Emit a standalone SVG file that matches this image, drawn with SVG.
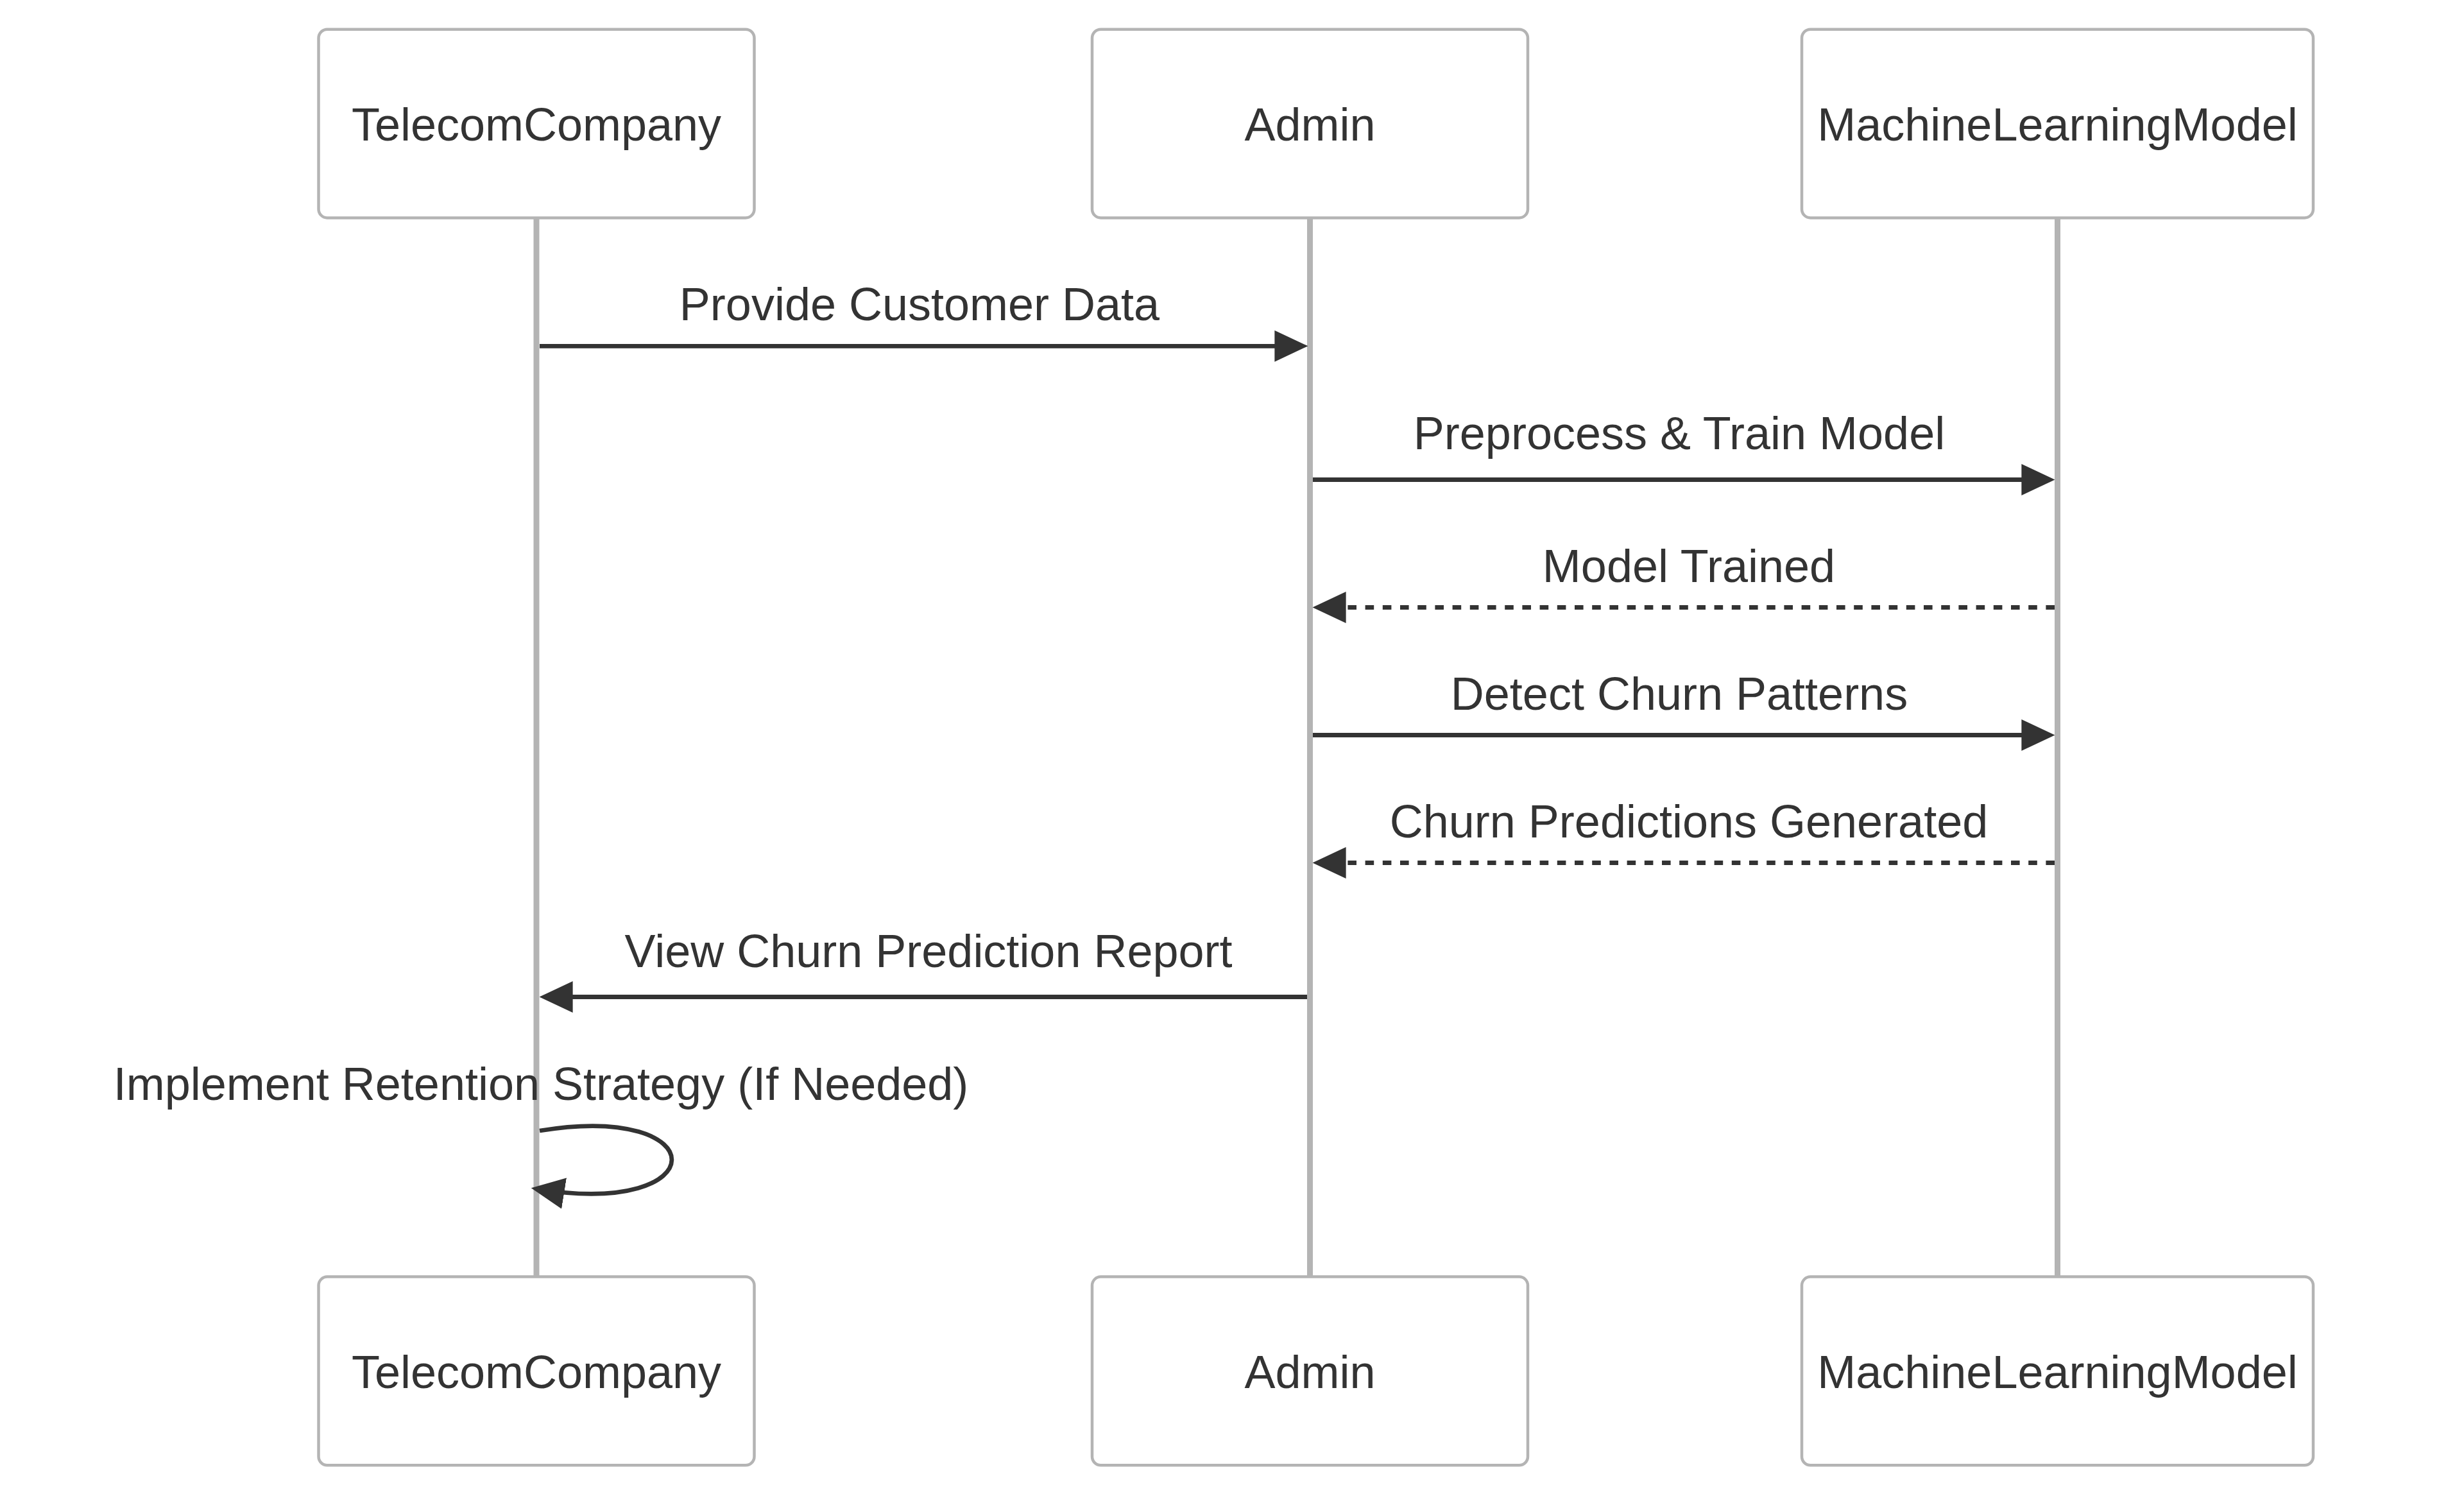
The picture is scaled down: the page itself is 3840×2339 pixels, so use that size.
<svg xmlns="http://www.w3.org/2000/svg" width="3840" height="2339" viewBox="0 0 3840 2339">
  <style>
    .actor { fill: #ffffff; stroke: #b4b4b4; stroke-width: 4.5; }
    .lifeline { stroke: #b4b4b4; stroke-width: 9; fill: none; }
    .label { font-family: "Liberation Sans", Arial, sans-serif; font-size: 72px; fill: #333333; text-anchor: middle; }
    .msg { stroke: #333333; stroke-width: 6.8; fill: none; marker-end: url(#arrowhead); }
    .dashed { stroke-dasharray: 13.6 13.6; }
  </style>
  <defs>
    <marker id="arrowhead" markerUnits="userSpaceOnUse" markerWidth="52" markerHeight="49" refX="40" refY="23.5" orient="auto" viewBox="0 0 50 47">
      <path d="M0,0 L50,23.5 L0,47 z" fill="#333333"/>
    </marker>
  </defs>
  <rect width="3840" height="2339" fill="#ffffff"/>

  <g id="lifelines">
    <line class="lifeline" x1="836" y1="339.5" x2="836" y2="1989.5"/>
    <line class="lifeline" x1="2041.5" y1="339.5" x2="2041.5" y2="1989.5"/>
    <line class="lifeline" x1="3206.5" y1="339.5" x2="3206.5" y2="1989.5"/>
  </g>

  <g id="actor-telecom-top">
    <rect class="actor" x="496.5" y="45.7" width="679" height="293.8" rx="13.6" ry="13.6"/>
    <text class="label" x="836" y="219">TelecomCompany</text>
  </g>
  <g id="actor-admin-top">
    <rect class="actor" x="1702" y="45.7" width="679" height="293.8" rx="13.6" ry="13.6"/>
    <text class="label" x="2041.5" y="219">Admin</text>
  </g>
  <g id="actor-ml-top">
    <rect class="actor" x="2808" y="45.7" width="797" height="293.8" rx="13.6" ry="13.6"/>
    <text class="label" x="3206.5" y="219">MachineLearningModel</text>
  </g>

  <g id="actor-telecom-bottom">
    <rect class="actor" x="496.5" y="1989.5" width="679" height="293.8" rx="13.6" ry="13.6"/>
    <text class="label" x="836" y="2163">TelecomCompany</text>
  </g>
  <g id="actor-admin-bottom">
    <rect class="actor" x="1702" y="1989.5" width="679" height="293.8" rx="13.6" ry="13.6"/>
    <text class="label" x="2041.5" y="2163">Admin</text>
  </g>
  <g id="actor-ml-bottom">
    <rect class="actor" x="2808" y="1989.5" width="797" height="293.8" rx="13.6" ry="13.6"/>
    <text class="label" x="3206.5" y="2163">MachineLearningModel</text>
  </g>

  <g id="connectors">
    <path class="msg" d="M841,539.3 L2028,539.3"/>
    <path class="msg" d="M2046,747.5 L3192,747.5"/>
    <path class="msg dashed" d="M3202,946.5 L2056,946.5"/>
    <path class="msg" d="M2046,1145.5 L3192,1145.5"/>
    <path class="msg dashed" d="M3202,1344.5 L2056,1344.5"/>
    <path class="msg" d="M2037,1553.5 L851,1553.5"/>
    <path class="msg" d="M841,1762 C1116,1717 1116,1898 838,1853"/>
  </g>

  <g id="message-labels">
    <text class="label" x="1433" y="499">Provide Customer Data</text>
    <text class="label" x="2617" y="699.5">Preprocess &amp; Train Model</text>
    <text class="label" x="2632" y="907">Model Trained</text>
    <text class="label" x="2617" y="1105.5">Detect Churn Patterns</text>
    <text class="label" x="2632" y="1304.5">Churn Predictions Generated</text>
    <text class="label" x="1447" y="1506.5">View Churn Prediction Report</text>
    <text class="label" x="843" y="1714">Implement Retention Strategy (If Needed)</text>
  </g>
</svg>
